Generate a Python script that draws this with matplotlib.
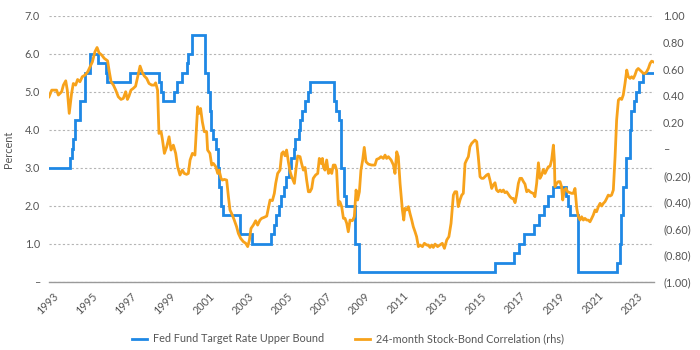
import matplotlib
matplotlib.use("Agg")
import matplotlib.pyplot as plt
import matplotlib.transforms as mtransforms
from matplotlib.ticker import FuncFormatter, FixedLocator
from matplotlib.lines import Line2D

# ---------------- data ----------------
fed_dates = ["1993-01", "1994-02", "1994-03", "1994-04", "1994-05", "1994-08", "1994-11",
             "1995-02", "1995-07", "1995-12", "1996-01", "1997-03", "1998-09", "1998-10",
             "1998-11", "1999-06", "1999-08", "1999-11", "2000-02", "2000-03", "2000-05",
             "2001-01", "2001-03", "2001-04", "2001-05", "2001-06", "2001-08", "2001-09",
             "2001-10", "2001-11", "2001-12", "2002-11", "2003-06", "2004-06", "2004-08",
             "2004-09", "2004-11", "2004-12", "2005-02", "2005-03", "2005-05", "2005-06",
             "2005-08", "2005-09", "2005-11", "2005-12", "2006-01", "2006-03", "2006-05",
             "2006-06", "2007-09", "2007-10", "2007-12", "2008-01", "2008-03", "2008-04",
             "2008-10", "2008-12", "2015-12", "2016-12", "2017-03", "2017-06", "2017-12",
             "2018-03", "2018-06", "2018-09", "2018-12", "2019-08", "2019-09", "2019-10",
             "2020-03", "2022-03", "2022-05", "2022-06", "2022-07", "2022-09", "2022-11",
             "2022-12", "2023-02", "2023-03", "2023-05", "2023-07"]
fed_rates = [3.00, 3.25, 3.50, 3.75, 4.25, 4.75, 5.50,
             6.00, 5.75, 5.50, 5.25, 5.50, 5.25, 5.00,
             4.75, 5.00, 5.25, 5.50, 5.75, 6.00, 6.50,
             5.50, 5.00, 4.50, 4.00, 3.75, 3.50, 3.00,
             2.50, 2.00, 1.75, 1.25, 1.00, 1.25, 1.50,
             1.75, 2.00, 2.25, 2.50, 2.75, 3.00, 3.25,
             3.50, 3.75, 4.00, 4.25, 4.50, 4.75, 5.00,
             5.25, 4.75, 4.50, 4.25, 3.00, 2.25, 2.00,
             1.00, 0.25, 0.50, 0.75, 1.00, 1.25, 1.50,
             1.75, 2.00, 2.25, 2.50, 2.25, 2.00, 1.75,
             0.25, 0.50, 1.00, 1.75, 2.50, 3.25, 4.00,
             4.50, 4.75, 5.00, 5.25, 5.50]
series_end = "2024-02"

corr_years = [1993.00, 1993.14, 1993.39, 1993.48, 1993.65, 1993.74, 1993.86, 1993.94, 1994.04, 1994.16,
              1994.25, 1994.37, 1994.47, 1994.59, 1994.71, 1994.85, 1994.99, 1995.11, 1995.23, 1995.36,
              1995.47, 1995.57, 1995.71, 1995.84, 1996.01, 1996.10, 1996.19, 1996.31, 1996.43, 1996.56,
              1996.70, 1996.82, 1996.94, 1997.03, 1997.11, 1997.21, 1997.33, 1997.45, 1997.56, 1997.68,
              1997.80, 1997.90, 1998.02, 1998.14, 1998.28, 1998.41, 1998.48, 1998.58, 1998.65, 1998.76,
              1998.82, 1998.93, 1999.05, 1999.17, 1999.27, 1999.39, 1999.51, 1999.61, 1999.73, 1999.85,
              1999.95, 2000.07, 2000.16, 2000.25, 2000.37, 2000.50, 2000.64, 2000.71, 2000.79, 2000.88,
              2000.98, 2001.10, 2001.15, 2001.27, 2001.36, 2001.45, 2001.57, 2001.67, 2001.74, 2001.84,
              2001.91, 2002.01, 2002.13, 2002.22, 2002.30, 2002.42, 2002.52, 2002.64, 2002.73, 2002.85,
              2002.99, 2003.11, 2003.21, 2003.30, 2003.38, 2003.50, 2003.62, 2003.72, 2003.84, 2003.93,
              2004.05, 2004.19, 2004.27, 2004.36, 2004.48, 2004.58, 2004.65, 2004.75, 2004.87, 2004.96,
              2005.04, 2005.13, 2005.21, 2005.30, 2005.39, 2005.47, 2005.61, 2005.69, 2005.78, 2005.90,
              2005.98, 2006.07, 2006.16, 2006.24, 2006.33, 2006.41, 2006.50, 2006.58, 2006.70, 2006.81,
              2006.89, 2006.98, 2007.05, 2007.10, 2007.18, 2007.27, 2007.36, 2007.44, 2007.53, 2007.61,
              2007.70, 2007.78, 2007.87, 2007.95, 2008.04, 2008.13, 2008.21, 2008.30, 2008.38, 2008.47,
              2008.59, 2008.69, 2008.78, 2008.86, 2008.95, 2009.03, 2009.12, 2009.20, 2009.29, 2009.41,
              2009.58, 2009.75, 2009.84, 2009.96, 2010.06, 2010.18, 2010.27, 2010.35, 2010.44, 2010.58,
              2010.70, 2010.78, 2010.87, 2010.95, 2011.04, 2011.16, 2011.23, 2011.29, 2011.38, 2011.47,
              2011.55, 2011.64, 2011.72, 2011.81, 2011.89, 2011.98, 2012.07, 2012.19, 2012.29, 2012.41,
              2012.49, 2012.58, 2012.66, 2012.75, 2012.84, 2012.97, 2013.09, 2013.21, 2013.32, 2013.44,
              2013.55, 2013.66, 2013.78, 2013.86, 2013.95, 2014.03, 2014.12, 2014.21, 2014.29, 2014.38,
              2014.46, 2014.55, 2014.63, 2014.72, 2014.81, 2014.89, 2014.98, 2015.06, 2015.15, 2015.23,
              2015.32, 2015.40, 2015.49, 2015.58, 2015.66, 2015.75, 2015.83, 2015.92, 2016.00, 2016.09,
              2016.18, 2016.26, 2016.35, 2016.43, 2016.52, 2016.60, 2016.69, 2016.78, 2016.86, 2016.95,
              2017.03, 2017.12, 2017.20, 2017.29, 2017.38, 2017.46, 2017.55, 2017.63, 2017.72, 2017.80,
              2017.89, 2017.97, 2018.06, 2018.15, 2018.23, 2018.32, 2018.40, 2018.49, 2018.57, 2018.66,
              2018.75, 2018.83, 2018.92, 2018.97, 2019.00, 2019.09, 2019.17, 2019.26, 2019.34, 2019.40,
              2019.48, 2019.57, 2019.65, 2019.77, 2019.86, 2019.94, 2020.03, 2020.12, 2020.20, 2020.29,
              2020.37, 2020.46, 2020.54, 2020.63, 2020.71, 2020.80, 2020.89, 2020.97, 2021.06, 2021.14,
              2021.23, 2021.32, 2021.40, 2021.49, 2021.57, 2021.66, 2021.74, 2021.83, 2021.91, 2022.00,
              2022.09, 2022.17, 2022.26, 2022.34, 2022.43, 2022.51, 2022.60, 2022.69, 2022.77, 2022.86,
              2022.94, 2023.03, 2023.11, 2023.20, 2023.28, 2023.37, 2023.46, 2023.54, 2023.63, 2023.71,
              2023.80, 2023.89, 2023.97, 2024.05]
corr_values = [0.392, 0.442, 0.442, 0.405, 0.430, 0.480, 0.512, 0.442, 0.267, 0.417,
               0.492, 0.480, 0.522, 0.505, 0.543, 0.555, 0.580, 0.618, 0.655, 0.731,
               0.763, 0.723, 0.706, 0.681, 0.663, 0.580, 0.505, 0.480, 0.442, 0.392,
               0.372, 0.380, 0.430, 0.372, 0.397, 0.442, 0.455, 0.472, 0.543, 0.623,
               0.573, 0.548, 0.530, 0.492, 0.480, 0.480, 0.497, 0.442, 0.116, 0.129,
               0.079, -0.034, 0.016, 0.091, -0.009, 0.028, -0.034, -0.135, -0.197, -0.160,
               -0.185, -0.192, -0.185, -0.084, -0.034, -0.047, 0.317, 0.267, 0.304, 0.204,
               0.129, 0.129, -0.009, -0.034, -0.122, -0.110, -0.135, -0.185, -0.160, -0.222,
               -0.235, -0.230, -0.235, -0.360, -0.460, -0.498, -0.536, -0.586, -0.636, -0.674,
               -0.699, -0.711, -0.736, -0.686, -0.599, -0.574, -0.541, -0.574, -0.536, -0.523,
               -0.516, -0.506, -0.448, -0.385, -0.390, -0.335, -0.260, -0.185, -0.160, -0.034,
               -0.022, -0.052, -0.009, -0.097, -0.172, -0.210, -0.260, -0.155, -0.054, -0.059,
               -0.110, -0.160, -0.140, -0.235, -0.323, -0.323, -0.298, -0.222, -0.197, -0.185,
               -0.072, -0.110, -0.072, -0.135, -0.160, -0.084, -0.185, -0.155, -0.185, -0.122,
               -0.122, -0.160, -0.423, -0.398, -0.435, -0.523, -0.523, -0.561, -0.624, -0.536,
               -0.541, -0.511, -0.310, -0.385, -0.323, -0.160, -0.084, 0.011, -0.097, -0.115,
               -0.122, -0.122, -0.079, -0.072, -0.059, -0.072, -0.047, -0.072, -0.059, -0.084,
               -0.122, -0.185, -0.022, -0.059, -0.260, -0.460, -0.536, -0.448, -0.460, -0.435,
               -0.486, -0.536, -0.586, -0.624, -0.661, -0.736, -0.724, -0.736, -0.711, -0.724,
               -0.724, -0.742, -0.724, -0.742, -0.717, -0.736, -0.724, -0.711, -0.749, -0.686,
               -0.661, -0.561, -0.348, -0.323, -0.323, -0.435, -0.385, -0.348, -0.335, -0.110,
               -0.084, -0.059, 0.016, 0.041, 0.054, 0.066, 0.054, -0.059, -0.210, -0.222,
               -0.222, -0.210, -0.197, -0.190, -0.235, -0.298, -0.272, -0.255, -0.310, -0.323,
               -0.310, -0.323, -0.310, -0.330, -0.323, -0.340, -0.360, -0.373, -0.373, -0.405,
               -0.348, -0.260, -0.222, -0.222, -0.247, -0.265, -0.323, -0.310, -0.323, -0.330,
               -0.335, -0.360, -0.260, -0.105, -0.222, -0.197, -0.155, -0.185, -0.160, -0.135,
               -0.130, -0.084, 0.028, -0.084, -0.285, -0.260, -0.247, -0.247, -0.285, -0.385,
               -0.310, -0.298, -0.323, -0.330, -0.335, -0.335, -0.298, -0.448, -0.511, -0.536,
               -0.511, -0.536, -0.523, -0.536, -0.536, -0.549, -0.523, -0.498, -0.460, -0.473,
               -0.435, -0.410, -0.430, -0.410, -0.398, -0.373, -0.348, -0.355, -0.348, -0.310,
               -0.059, 0.217, 0.367, 0.380, 0.372, 0.405, 0.492, 0.593, 0.543, 0.530,
               0.543, 0.530, 0.555, 0.593, 0.605, 0.593, 0.580, 0.568, 0.568, 0.580,
               0.605, 0.643, 0.660, 0.655]

tick_years = [1993, 1995, 1997, 1999, 2001, 2003, 2005, 2007, 2009, 2011,
              2013, 2015, 2017, 2019, 2021, 2023]
left_ticks = [0, 1, 2, 3, 4, 5, 6, 7]
right_ticks = [-1.0, -0.8, -0.6, -0.4, -0.2, 0.0, 0.2, 0.4, 0.6, 0.8, 1.0]

fed_label = "Fed Fund Target Rate Upper Bound"
corr_label = "24-month Stock-Bond Correlation (rhs)"
ylabel = "Percent"

# ---------------- style ----------------
BLUE = "#1E88E5"
ORANGE = "#F7A21B"
TEXT = "#555555"
FONT = ["Lato", "DejaVu Sans"]
FS = 7.8
LW = 2.0
plt.rcParams["font.family"] = FONT


def to_year(s):
    y, m = s.split("-")
    return int(y) + (int(m) - 1) / 12.0


fed_x = [to_year(d) for d in fed_dates] + [to_year(series_end)]
fed_y = list(fed_rates) + [fed_rates[-1]]

W, H = 700, 350
fig = plt.figure(figsize=(W / 100, H / 100), dpi=100)
ax = fig.add_axes([49 / W, 1 - 281.7 / H, 605 / W, (281.7 - 16) / H])
ax2 = ax.twinx()

ax.step(fed_x, fed_y, where="post", color=BLUE, lw=LW, solid_joinstyle="miter")
ax2.plot(corr_years, corr_values, color=ORANGE, lw=LW, solid_joinstyle="round")

ax.set_xlim(1993.0, 2024.09)
ax.set_ylim(0, 7)
ax2.set_ylim(-1, 1)

for a in (ax, ax2):
    for s in a.spines.values():
        s.set_visible(False)
ax.spines["bottom"].set_visible(True)
ax.spines["bottom"].set_color("#9a9a9a")
ax.spines["bottom"].set_linewidth(1.0)

ax.yaxis.set_major_locator(FixedLocator(left_ticks))
ax.yaxis.set_major_formatter(FuncFormatter(lambda v, p: "–" if abs(v) < 1e-9 else f"{v:.1f}"))
ax2.yaxis.set_major_locator(FixedLocator(right_ticks))


def rfmt(v, p):
    if abs(v) < 1e-9:
        return "–"
    if v < 0:
        return f"({abs(v):.2f})"
    return f"{v:.2f}"


ax2.yaxis.set_major_formatter(FuncFormatter(rfmt))

ax.grid(axis="y", color="#b5b5b5", lw=0.8, ls=(0, (2, 2)))
ax.set_axisbelow(True)

ax.tick_params(axis="y", length=0, pad=6.5, labelsize=FS, labelcolor=TEXT)
ax2.tick_params(axis="y", length=0, pad=6.5, labelsize=FS, labelcolor=TEXT)

ax.set_xticks(tick_years)
ax.set_xticklabels([str(t) for t in tick_years], rotation=45, ha="right", va="center",
                   rotation_mode="anchor", fontsize=FS, color=TEXT)
ax.tick_params(axis="x", length=0, pad=9)
offset = mtransforms.ScaledTranslation(8 / 100, 0, fig.dpi_scale_trans)
for lbl in ax.get_xticklabels():
    lbl.set_transform(lbl.get_transform() + offset)

fig.text(8.5 / W, 1 - 149 / H, ylabel, rotation=90, ha="center", va="center",
         fontsize=FS, color=TEXT)

handles = [Line2D([], [], color=BLUE, lw=LW), Line2D([], [], color=ORANGE, lw=LW)]
fig.legend(handles, [fed_label, corr_label], loc="center", bbox_to_anchor=(348 / W, 1 - 339 / H),
           ncol=2, frameon=False, fontsize=FS, labelcolor=TEXT, handlelength=1.4,
           handletextpad=0.5, columnspacing=2.9)

fig.savefig("out.png", dpi=100)
